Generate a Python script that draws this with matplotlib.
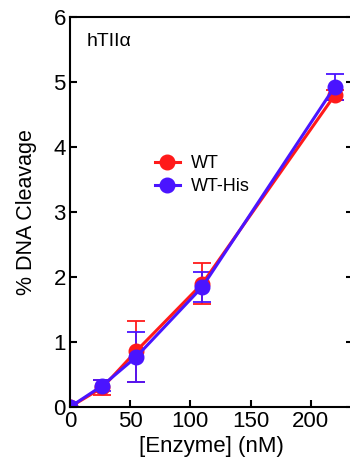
import matplotlib.pyplot as plt
import numpy as np

plt.rcParams['font.family'] = ['Liberation Sans', 'DejaVu Sans']

enzyme = [0, 27, 55, 110, 220]
wt = [0, 0.30, 0.86, 1.90, 4.80]
wt_err = [0, 0.12, 0.47, 0.32, 0.08]
his = [0, 0.33, 0.77, 1.85, 4.93]
his_err = [0, 0.08, 0.38, 0.23, 0.20]

red = '#ff1a1a'
blue = '#4a14ff'

fig = plt.figure(figsize=(3.5, 4.63), dpi=100)
# right spine sits just past the figure edge, as in the cropped original
ax = fig.add_axes([0.2, 0.121, 0.808, 0.842])

ax.errorbar(enzyme, wt, yerr=wt_err, color=red, marker='o', markersize=10.5,
            linewidth=2.2, elinewidth=1.3, capsize=6.5, capthick=1.3, label='WT')
ax.errorbar(enzyme, his, yerr=his_err, color=blue, marker='o', markersize=10.5,
            linewidth=2.2, elinewidth=1.3, capsize=6.5, capthick=1.3, label='WT-His')

ax.set_xlim(0, 235)
ax.set_ylim(0, 6)
ax.set_xticks([0, 50, 100, 150, 200])
ax.set_yticks([0, 1, 2, 3, 4, 5, 6])
ax.tick_params(direction='in', length=5, width=1.5, labelsize=16,
               right=True, pad=3)
for s in ax.spines.values():
    s.set_linewidth(1.5)
for s in ['left', 'bottom']:
    ax.spines[s].set_clip_on(False)

ax.set_xlabel('[Enzyme] (nM)', fontsize=16, labelpad=3)
ax.set_ylabel('% DNA Cleavage', fontsize=15.5, labelpad=12)
ax.text(0.06, 0.96, 'hTII\u03b1', transform=ax.transAxes, fontsize=14,
        va='top', ha='left')

handles, labels = ax.get_legend_handles_labels()
handles = [h[0] for h in handles]
ax.legend(handles, labels, loc='center left', bbox_to_anchor=(0.30, 0.595),
          frameon=False, fontsize=13, handlelength=1.4, handletextpad=0.6,
          labelspacing=0.35, borderpad=0, borderaxespad=0)

fig.savefig('out.png', dpi=100)
